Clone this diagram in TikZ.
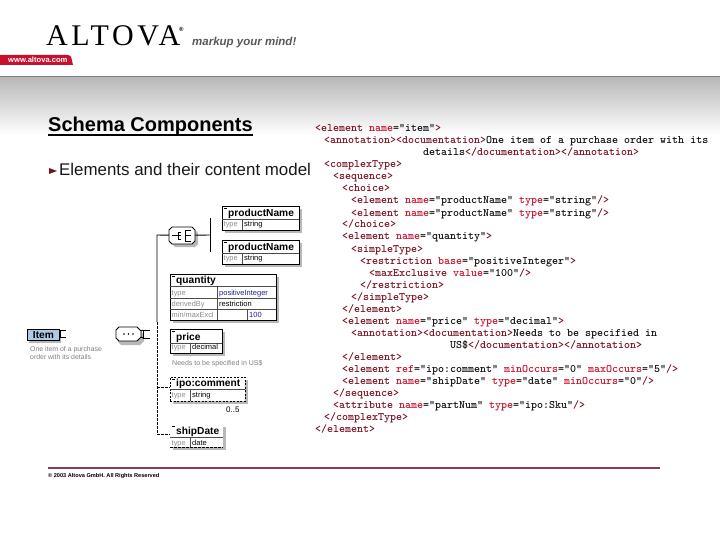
\documentclass[tikz,border=0pt]{standalone}
\usepackage{fontspec}
\setmainfont{Liberation Sans}
\definecolor{tagc}{HTML}{7A1020}
\definecolor{attc}{HTML}{C8102E}
\definecolor{valc}{HTML}{101010}
\definecolor{wine}{HTML}{8A3A58}
\definecolor{redtab}{HTML}{C8102E}
\definecolor{typeblue}{HTML}{20208A}
\definecolor{itemfill}{HTML}{B0C8E8}
\newcommand{\tgc}[1]{\textcolor{tagc}{#1}}
\newcommand{\atc}[1]{\textcolor{attc}{#1}}
\tikzset{
 x=1pt,y=-1pt,
 codeline/.style={anchor=base west,inner sep=0pt,font=\fontsize{11.43}{12}\ttfamily\bfseries,text=valc},
 boxsolid/.style={draw=black,line width=0.9pt,fill=white,inner sep=0pt,anchor=north west,outer sep=0pt},
 boxdash/.style={draw=black,line width=0.9pt,dash pattern=on 2pt off 1.5pt,fill=white,inner sep=0pt,anchor=north west,outer sep=0pt},
 shadowc/.style={fill=black!28,draw=none},
 conn/.style={line width=0.9pt,draw=black},
 conndash/.style={line width=0.9pt,draw=black,dash pattern=on 2.5pt off 1.5pt},
 ttl/.style={anchor=base west,inner sep=0pt,font=\fontsize{10.2}{11}\bfseries},
 lab/.style={anchor=base west,inner sep=0pt,font=\fontsize{7.4}{8}\selectfont,text=black!45},
 valt/.style={anchor=base west,inner sep=0pt,font=\fontsize{7.5}{8}\selectfont},
 note/.style={anchor=base west,inner sep=0pt,font=\fontsize{6.9}{7}\selectfont,text=black!50},
 tickm/.style={line width=1.2pt,draw=black},
 cell/.style={line width=0.5pt,draw=black!70},
}
% #1 name #2 x #3 y #4 w #5 h #6 title-height #7 col-offset #8 title #9 type value
\newcommand{\ElemBox}[9]{%
 \fill[shadowc] (#2+3,#3+3) rectangle +(#4,#5);
 \node[boxsolid,minimum width=#4pt,minimum height=#5pt] (#1) at (#2,#3) {};
 \draw[cell] (#2,#3+#6)--(#2+#4,#3+#6) (#2+#7,#3+#6)--(#2+#7,#3+#5);
 \draw[tickm] (#2+1.5,#3+2.5)--(#2+5,#3+2.5);
 \node[ttl] (#1t) at (#2+6,#3+#6-3) {#8};
 \node[lab] (#1k) at (#2+1.5,#3+#5-3.5) {type};
 \node[valt] (#1v) at (#2+#7+2,#3+#5-3.5) {#9};
}
\begin{document}
\begin{tikzpicture}
\useasboundingbox (0,0) rectangle (720,540);
\fill[white] (0,0) rectangle (720,540);
% band
\foreach \yy in {77,78,...,135}{
 \pgfmathsetmacro{\lev}{28*(135-\yy)/58}
 \fill[black!\lev] (0,\yy) rectangle (720,\yy+1.1);
}
\draw[black!50,line width=0.8pt] (0,76)--(720,76);
% logo
\node[anchor=base west,inner sep=0pt,font=\fontsize{30}{30}\selectfont,text=black] (logo) at (46,46) {\fontspec{Liberation Serif}[LetterSpace=12]ALTOVA};
\node[anchor=base west,inner sep=0pt,font=\fontsize{6}{6}\bfseries] (reg) at (179,32) {®};
\node[anchor=base west,inner sep=0pt,font=\fontsize{11.5}{12}\bfseries\itshape,text=black!65] (tagline) at (192,46) {markup your mind!};
\fill[redtab] (0,55) -- (68,55) to[out=0,in=110] (73,65) -- (0,65) -- cycle;
\node[anchor=base west,inner sep=0pt,font=\fontsize{7.6}{8}\bfseries,text=white] (www) at (8,62.5) {www.altova.com};
% headings
\node[anchor=base west,inner sep=0pt,font=\fontsize{20}{22}\bfseries] (title) at (48,132) {Schema Components};
\draw[black,line width=1.4pt] (48,135)--(253,135);
\fill[tagc] (49,168)--(57,171)--(49,174)--cycle;
\node[anchor=base west,inner sep=0pt,font=\fontsize{16.9}{18}\selectfont,text=black!90] (sub) at (59,176) {Elements and their content model};
% code
\node[codeline] (c1) at (315,132) {\tgc{<element} \atc{name}="item"\tgc{>}};
\node[codeline] (c2) at (324,144) {\tgc{<annotation><documentation>}One item of a purchase order with its};
\node[codeline] (c3) at (423,156) {details\tgc{</documentation></annotation>}};
\node[codeline] (c4) at (324,168) {\tgc{<complexType>}};
\node[codeline] (c5) at (333,180) {\tgc{<sequence>}};
\node[codeline] (c6) at (342,192) {\tgc{<choice>}};
\node[codeline] (c7) at (351,204) {\tgc{<element} \atc{name}="productName" \atc{type}="string"\tgc{/>}};
\node[codeline] (c8) at (351,216) {\tgc{<element} \atc{name}="productName" \atc{type}="string"\tgc{/>}};
\node[codeline] (c9) at (342,228) {\tgc{</choice>}};
\node[codeline] (c10) at (342,240) {\tgc{<element} \atc{name}="quantity"\tgc{>}};
\node[codeline] (c11) at (351,252) {\tgc{<simpleType>}};
\node[codeline] (c12) at (360,264) {\tgc{<restriction} \atc{base}="positiveInteger"\tgc{>}};
\node[codeline] (c13) at (369,276) {\tgc{<maxExclusive} \atc{value}="100"\tgc{/>}};
\node[codeline] (c14) at (360,288) {\tgc{</restriction>}};
\node[codeline] (c15) at (351,300) {\tgc{</simpleType>}};
\node[codeline] (c16) at (342,312) {\tgc{</element>}};
\node[codeline] (c17) at (342,324) {\tgc{<element} \atc{name}="price" \atc{type}="decimal"\tgc{>}};
\node[codeline] (c18) at (351,336) {\tgc{<annotation><documentation>}Needs to be specified in};
\node[codeline] (c19) at (450,348) {US\$\tgc{</documentation></annotation>}};
\node[codeline] (c20) at (342,360) {\tgc{</element>}};
\node[codeline] (c21) at (342,372) {\tgc{<element} \atc{ref}="ipo:comment" \atc{minOccurs}="0" \atc{maxOccurs}="5"\tgc{/>}};
\node[codeline] (c22) at (342,384) {\tgc{<element} \atc{name}="shipDate" \atc{type}="date" \atc{minOccurs}="0"\tgc{/>}};
\node[codeline] (c23) at (333,396) {\tgc{</sequence>}};
\node[codeline] (c24) at (333,408) {\tgc{<attribute} \atc{name}="partNum" \atc{type}="ipo:Sku"\tgc{/>}};
\node[codeline] (c25) at (324,420) {\tgc{</complexType>}};
\node[codeline] (c26) at (315,432) {\tgc{</element>}};
% footer
\fill[wine] (48,466.5) rectangle (660,468.5);
\node[anchor=base west,inner sep=0pt,font=\fontsize{5.6}{6}\bfseries] (foot) at (48,477) {© 2003 Altova GmbH. All Rights Reserved};
% item element
\fill[shadowc] (29,332) rectangle (61,343);
\node[draw=black,line width=0.9pt,fill=itemfill,inner sep=0pt,anchor=north west,minimum width=32pt,minimum height=11pt,font=\fontsize{10.2}{10}\bfseries] (item) at (27,329) {Item};
\draw[conn] (66,330)--(60,330)--(60,337)--(66,337);
\node[note] (itemdoc1) at (30,351) {One item of a purchase};
\node[note] (itemdoc2) at (30,359) {order with its details};
% sequence node
\fill[shadowc] (121,330) -- (139,330) -- (144,335) -- (144,341) -- (140,345) -- (121,345) -- (118,342) -- (118,333) -- cycle;
\node[inner sep=0pt,minimum width=25pt,minimum height=14pt,anchor=north west] (seq) at (116,327) {};
\path[draw=black,line width=0.9pt,fill=white] (119,327) -- (137,327) -- (141,331) -- (141,337) -- (137,341) -- (119,341) -- (116,338) -- (116,330) -- cycle;
\fill (124,334) circle (0.9) (128.5,334) circle (0.9) (133,334) circle (0.9);
\draw[conn] (150,330)--(143,330)--(143,338)--(150,338);
\draw[conn] (141,331)--(143,330) (141,337)--(143,338);
% trunk
\coordinate (trunktop) at (157,235);
\coordinate (trunkmid) at (157,322);
\coordinate (trunkend) at (157,434);
\coordinate (tipo) at (157,387);
% choice node
\fill[shadowc] (175,230) -- (195,230) -- (198,233) -- (198,244) -- (195,247) -- (175,247) -- (172,244) -- (172,233) -- cycle;
\node[inner sep=0pt,minimum width=26pt,minimum height=17pt,anchor=north west] (choice) at (169,226.5) {};
\path[draw=black,line width=0.9pt,fill=white] (172,227) -- (192,227) -- (195,230) -- (195,241) -- (192,244) -- (172,244) -- (169,241) -- (169,230) -- cycle;
\draw[conn] (172,235.5)--(178,235.5) (178,232)--(181,232) (178,235.5)--(181,235.5) (178,239)--(181,239) (178,232)--(178,239);
\draw[conn] (185,230)--(185,241) (185,230)--(191,230) (185,235.5)--(191,235.5) (185,241)--(191,241);
\draw[conn] (choice.west) -- (trunktop) -- (trunkmid);
\draw[conndash] (trunkmid) -- (trunkend);
\coordinate (choicebar) at (210,235);
\draw[conn] (choice.east) -- (choicebar);
\draw[conn] (210,218)--(210,252);
% element boxes
\ElemBox{pnA}{222}{206}{77}{24}{13}{20}{productName}{string}
\ElemBox{pnB}{222}{240}{77}{24}{13}{20}{productName}{string}
% quantity
\fill[shadowc] (173,277) rectangle +(106,46);
\node[boxsolid,minimum width=106pt,minimum height=46pt] (qty) at (170,274) {};
\draw[cell] (170,286)--(276,286) (170,298)--(276,298) (170,309)--(276,309) (217,286)--(217,320) (247,309)--(247,320);
\draw[tickm] (171.5,276.5)--(175,276.5);
\node[ttl] (qtyt) at (176,283) {quantity};
\node[lab] (qk1) at (171.5,295) {type};
\node[lab] (qk2) at (171.5,306) {derivedBy};
\node[lab] (qk3) at (171.5,317) {min/maxExcl};
\node[valt,text=typeblue] (qv1) at (219,295) {positiveInteger};
\node[valt] (qv2) at (219,306) {restriction};
\node[valt,text=typeblue] (qv3) at (249,317) {100};
% price
\ElemBox{price}{170}{329}{52}{24}{14}{20}{price}{decimal}
\node[note,font=\fontsize{7}{7}\selectfont] (pricedoc) at (172,365) {Needs to be specified in US\$};
% ipo:comment
\fill[shadowc] (173,380) rectangle +(75,24);
\node[boxdash,minimum width=75pt,minimum height=24pt] (ipo) at (170,377) {};
\draw[cell] (170,389)--(245,389) (190,389)--(190,401);
\draw[tickm] (171.5,379.5)--(175,379.5);
\node[ttl] (ipot) at (176,386) {ipo:comment};
\node[lab] (ipok) at (171.5,397.5) {type};
\node[valt] (ipov) at (192,397.5) {string};
\node[anchor=base west,inner sep=0pt,font=\fontsize{8}{8}\selectfont] (occ) at (226,412) {0..5};
\draw[conndash] (tipo) -- (ipo.west |- tipo);
% shipDate
\fill[shadowc] (173,427) rectangle +(53,23);
\node[fill=white,inner sep=0pt,anchor=north west,outer sep=0pt,minimum width=53pt,minimum height=23pt] (ship) at (170,424) {};
\draw[cell] (170,437)--(223,437) (190,437)--(190,447);
\draw[conndash] (170,447)--(223,447);
\draw[tickm] (171.5,426.5)--(175,426.5);
\node[ttl] (shipt) at (176,434) {shipDate};
\node[lab] (shipk) at (171.5,445) {type};
\node[valt] (shipv) at (192,445) {date};
\draw[conndash] (trunkend) -- (ship.west |- trunkend);
\end{tikzpicture}
\end{document}
